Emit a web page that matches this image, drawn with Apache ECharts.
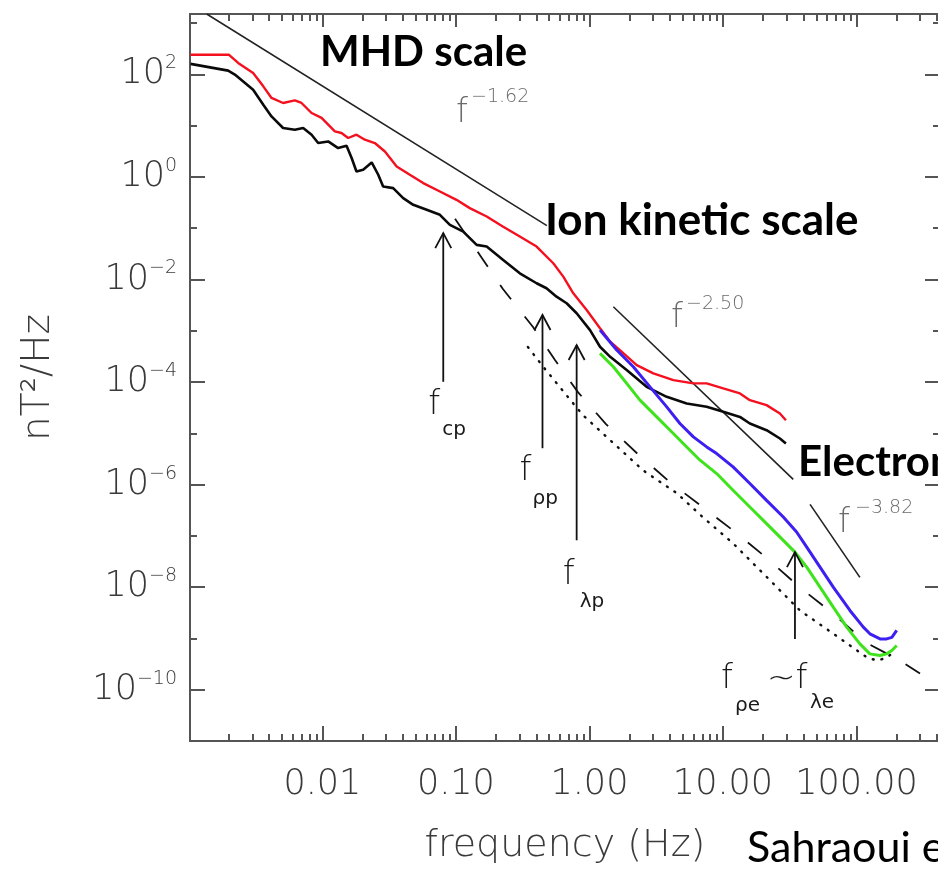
<!DOCTYPE html>
<html>
<head>
<meta charset="utf-8">
<script src="https://cdn.jsdelivr.net/npm/echarts@6/dist/echarts.min.js"></script>
<style>
  html, body { margin: 0; padding: 0; background: #fff; }
  #chart { width: 938px; height: 872px; }
</style>
</head>
<body>
<div id="chart"></div>
<script>
// Magnetic field power spectra across MHD, ion and electron scales (nT^2/Hz)

// Spectrum 1 (red)
const redFreq = [0.00103, 0.0020, 0.00234, 0.00303, 0.00361, 0.00416, 0.00508, 0.00622, 0.00698, 0.0083,
  0.00986, 0.0124, 0.0139, 0.0156, 0.0180, 0.0208, 0.0247, 0.0294, 0.0360, 0.0452,
  0.0569, 0.0759, 0.101, 0.127, 0.170, 0.226, 0.301, 0.402, 0.536, 0.637,
  0.757, 0.953, 1.20, 1.43, 1.69, 2.26, 3.01, 4.25, 6.0, 7.55,
  10.05, 13.4, 15.9, 21.2, 26.7, 29.6];
const redPsd = [240, 240, 167, 106, 58.3, 34.6, 27.6, 31.0, 27.6, 17.6,
  14.1, 7.71, 7.16, 5.73, 6.64, 5.31, 4.57, 3.13, 1.60, 1.10,
  0.757, 0.519, 0.357, 0.246, 0.169, 0.107, 0.0686, 0.0438, 0.0207, 0.01135,
  0.00537, 0.00254, 0.001114, 6.10e-4, 4.20e-4, 2.14e-4, 1.47e-4, 1.09e-4, 9.4e-5, 9.4e-5,
  7.5e-5, 5.98e-5, 4.43e-5, 3.54e-5, 2.44e-5, 1.80e-5];

// Spectrum 2 (black)
const blackFreq = [0.00103, 0.00197, 0.00221, 0.00303, 0.00361, 0.00416, 0.00508, 0.00622, 0.00718, 0.0083,
  0.0093, 0.01105, 0.01312, 0.01517, 0.01656, 0.0180, 0.0202, 0.0234, 0.0262, 0.0285,
  0.0339, 0.0403, 0.0479, 0.0604, 0.0759, 0.0902, 0.1135, 0.143, 0.170, 0.226,
  0.301, 0.402, 0.477, 0.567, 0.675, 0.802, 1.01, 1.20, 1.43, 1.90,
  2.68, 3.79, 5.35, 7.55, 10.05, 13.4, 15.9, 21.2, 26.7, 29.6];
const blackPsd = [160, 118, 98.7, 50.2, 25.6, 15.1, 8.98, 8.32, 8.98, 6.64,
  4.57, 4.91, 3.65, 4.05, 2.33, 1.27, 1.38, 1.91, 1.10, 0.649,
  0.604, 0.385, 0.285, 0.228, 0.182, 0.116, 0.0859, 0.0472, 0.0438, 0.0240,
  0.0132, 0.00843, 0.00673, 0.00461, 0.00343, 0.00219, 0.00103, 4.87e-4, 3.10e-4, 1.71e-4,
  8.05e-5, 5.14e-5, 3.82e-5, 3.28e-5, 2.62e-5, 2.09e-5, 1.55e-5, 1.15e-5, 7.91e-6, 6.33e-6];

// Spectrum 3 (blue, high-frequency)
const blueFreq = [1.20, 1.60, 2.13, 2.84, 3.79, 4.76, 6.0, 7.55, 8.97, 11.9,
  15.9, 21.2, 28.3, 35.6, 42.4, 53.3, 67.0, 89.3, 112.5, 126,
  150, 168, 184, 200];
const bluePsd = [1.03e-3, 4.20e-4, 1.98e-4, 8.05e-5, 3.28e-5, 1.55e-5, 8.51e-6, 5.43e-6, 4.03e-6, 2.21e-6,
  1.05e-6, 4.93e-7, 2.33e-7, 1.19e-7, 6.04e-8, 2.46e-8, 1.0e-8, 3.51e-9, 1.66e-9, 1.23e-9,
  9.8e-10, 9.8e-10, 1.05e-9, 1.43e-9];

// Spectrum 4 (green, high-frequency)
const greenFreq = [1.20, 1.51, 1.90, 2.39, 3.19, 4.25, 5.04, 6.73, 8.97, 11.9,
  15.9, 21.2, 28.3, 34.6, 42.4, 53.3, 67.0, 84.5, 106, 126,
  150, 168, 184, 200];
const greenPsd = [3.62e-4, 1.98e-4, 9.4e-5, 4.43e-5, 2.09e-5, 9.9e-6, 6.33e-6, 2.99e-6, 1.64e-6, 7.74e-7,
  3.65e-7, 1.73e-7, 8.17e-8, 4.83e-8, 2.46e-8, 1.0e-8, 4.07e-9, 1.66e-9, 7.85e-10, 5.0e-10,
  4.64e-10, 5.0e-10, 5.81e-10, 7.26e-10];

// Instrument noise levels (dashed and dotted)
const dashFreq = [0.0985, 0.151, 0.225, 0.378, 0.552, 0.820, 1.33, 2.27, 4.01, 7.08,
  12.7, 21.4, 37.7, 66.7, 118, 212, 299];
const dashPsd = [0.152, 0.0301, 0.00652, 1.18e-3, 2.68e-4, 6.35e-5, 1.51e-5, 4.08e-6, 1.11e-6, 3.61e-7,
  1.12e-7, 3.64e-8, 9.86e-9, 3.06e-9, 8.3e-10, 3.70e-10, 2.06e-10];
const dotFreq = [0.346, 0.465, 0.601, 0.893, 1.43, 2.52, 4.52, 7.08, 11.9, 21.4,
  37.7, 66.7, 120, 143, 169, 188];
const dotPsd = [4.81e-4, 1.79e-4, 7.94e-5, 2.26e-5, 7.33e-6, 1.90e-6, 6.76e-7, 2.30e-7, 7.15e-8, 1.55e-8,
  3.51e-9, 1.25e-9, 4.24e-10, 3.70e-10, 4.24e-10, 5.31e-10];

// Power-law reference segments
const fit162Freq = [0.00136, 0.48];
const fit162Psd = [1500, 0.112];
const fit250Freq = [1.51, 33.6];
const fit250Psd = [2.94e-3, 1.26e-6];
const fit382Freq = [44.9, 106];
const fit382Psd = [4.12e-7, 1.55e-8];

// Characteristic frequencies (arrows): frequency, arrow tip and arrow base levels
const cutoffFreq = [0.0804, 0.445, 0.802, 34.6];
const cutoffTip = [7.98e-2, 2.03e-3, 5.26e-4, 4.83e-8];
const cutoffBase = [1.01e-4, 5.12e-6, 8.2e-8, 9.8e-10];
const cutoffText = [
  ['f', 'cp'],
  ['f', 'ρp'],
  ['f', 'λp'],
  ['f', 'ρe', '~f', 'λe']
];

// Axis ranges and ticks
const xMin = 0.00102, xMax = 422, yMin = 1e-11, yMax = 1500;
const xMajor = [0.01, 0.1, 1, 10, 100];
const yMajor = [1e-10, 1e-8, 1e-6, 1e-4, 1e-2, 1, 1e2];
const yMinor = [1e-9, 1e-7, 1e-5, 1e-3, 1e-1, 1e1, 1e3];

const xMinor = [];
[0.001, 0.01, 0.1, 1, 10, 100].forEach(function (d) {
  for (let m = 2; m <= 9; m++) {
    const v = m * d;
    if (v > xMin && v < xMax) xMinor.push(v);
  }
});

const pairs = (xs, ys) => xs.map((x, i) => [x, ys[i]]);

const FONT = '"DejaVu Sans", sans-serif';
const axisGray = '#555';
const labelGray = '#3a3a3a';

function xAxis(position, tickLen, ticks, labelled) {
  return {
    type: 'log', gridIndex: 0, position: position, min: xMin, max: xMax,
    axisLine: { show: labelled, lineStyle: { color: axisGray, width: 2 } },
    axisTick: { show: true, inside: true, length: tickLen, customValues: ticks,
      lineStyle: { color: axisGray, width: 2 } },
    axisLabel: labelled && position === 'bottom' ? {
      show: true, customValues: xMajor, margin: 26,
      formatter: v => Number(v).toFixed(2),
      fontSize: 35, fontFamily: FONT, fontWeight: 200, color: labelGray
    } : { show: false },
    splitLine: { show: false },
    name: labelled && position === 'bottom' ? 'frequency (Hz)' : '',
    nameLocation: 'middle', nameGap: 86,
    nameTextStyle: { fontSize: 38, fontFamily: FONT, fontWeight: 200, color: labelGray }
  };
}

function yAxis(position, tickLen, ticks, labelled) {
  return {
    type: 'log', gridIndex: 0, position: position, min: yMin, max: yMax,
    axisLine: { show: labelled, lineStyle: { color: axisGray, width: 2 } },
    axisTick: { show: true, inside: true, length: tickLen, customValues: ticks,
      lineStyle: { color: axisGray, width: 2 } },
    axisLabel: labelled && position === 'left' ? {
      show: true, customValues: yMajor, margin: 13,
      formatter: function (v) {
        const e = Math.round(Math.log10(v));
        return '{b|10}{e|' + (e < 0 ? '−' : '') + Math.abs(e) + '}';
      },
      rich: {
        b: { fontSize: 35, fontFamily: FONT, fontWeight: 200, color: labelGray },
        e: { fontSize: 19, fontFamily: FONT, fontWeight: 200, color: labelGray, padding: [0, 0, 22, 0] }
      }
    } : { show: false },
    splitLine: { show: false },
    name: labelled && position === 'left' ? 'nT²/Hz' : '',
    nameLocation: 'middle', nameGap: 132,
    nameTextStyle: { fontSize: 39, fontFamily: FONT, fontWeight: 200, color: labelGray }
  };
}

function curve(name, xs, ys, color, width, type, extra) {
  return Object.assign({
    name: name, type: 'line', xAxisIndex: 0, yAxisIndex: 0,
    data: pairs(xs, ys), showSymbol: false, symbol: 'none', smooth: false,
    lineStyle: { color: color, width: width, type: type || 'solid' },
    emphasis: { disabled: true }, silent: true, z: 3
  }, extra || {});
}

// Label pieces for each arrow, offsets from the arrow base in px: [dx, dy, fontSize]
const cutoffLayout = [
  [[-15, 23, 34], [-1, 48, 20]],
  [[-23, 23, 34], [-10, 51, 20]],
  [[-14, 35, 34], [3, 62, 20]],
  [[-74, 40, 34], [-60, 67, 20], [-28, 40, 34], [15, 64, 20]]
];

const chart = echarts.init(document.getElementById('chart'), null, { renderer: 'canvas' });

chart.setOption({
  animation: false,
  backgroundColor: '#ffffff',
  textStyle: { fontFamily: FONT },
  grid: { left: 190, top: 14, width: 750, height: 727, containLabel: false, outerBoundsMode: 'none' },
  xAxis: [
    xAxis('bottom', 15, xMajor, true),
    xAxis('bottom', 7, xMinor, false),
    xAxis('top', 13, xMajor, true),
    xAxis('top', 7, xMinor, false)
  ],
  yAxis: [
    yAxis('left', 15, yMajor, true),
    yAxis('left', 7, yMinor, false),
    yAxis('right', 15, yMajor, true),
    yAxis('right', 7, yMinor, false)
  ],
  series: [
    curve('noise-dashed', dashFreq, dashPsd, '#111', 1.8, [18, 22]),
    curve('noise-dotted', dotFreq, dotPsd, '#111', 2.4, [1, 8], { lineStyle: { color: '#111', width: 2.4, type: [1, 8], cap: 'round' } }),
    curve('f^-1.62', fit162Freq, fit162Psd, '#222', 1.5),
    curve('f^-2.50', fit250Freq, fit250Psd, '#222', 1.6),
    curve('f^-3.82', fit382Freq, fit382Psd, '#222', 1.6),
    curve('black', blackFreq, blackPsd, '#0a0a0a', 2.6),
    curve('red', redFreq, redPsd, '#f5101f', 2.4),
    curve('blue', blueFreq, bluePsd, '#3d1ff2', 3),
    curve('green', greenFreq, greenPsd, '#3fe31c', 3),
    {
      type: 'custom', xAxisIndex: 0, yAxisIndex: 0, silent: true, z: 5,
      data: cutoffFreq.map((f, i) => [f, cutoffTip[i], cutoffBase[i], i]),
      renderItem: function (params, api) {
        const i = api.value(3);
        const tip = api.coord([api.value(0), api.value(1)]);
        const base = api.coord([api.value(0), api.value(2)]);
        const children = [
          { type: 'line', shape: { x1: tip[0], y1: tip[1], x2: base[0], y2: base[1] },
            style: { stroke: '#111', lineWidth: 1.8 } },
          { type: 'polyline', shape: { points: [[tip[0] - 8, tip[1] + 15], [tip[0], tip[1]], [tip[0] + 8, tip[1] + 15]] },
            style: { stroke: '#111', lineWidth: 1.8, fill: null } }
        ];
        cutoffText[i].forEach(function (t, k) {
          const L = cutoffLayout[i][k];
          children.push({
            type: 'text', x: base[0] + L[0], y: base[1] + L[1],
            style: { text: t, fill: '#1a1a1a', fontSize: L[2], fontFamily: FONT, fontWeight: L[2] > 30 ? 200 : 'normal',
              align: 'left', verticalAlign: 'middle' }
          });
        });
        return { type: 'group', children: children };
      }
    }
  ],
  graphic: [
    { type: 'text', x: 320, y: 52, z: 50, style: { text: 'MHD scale', fill: '#000', fontSize: 42, fontWeight: 'bold', fontFamily: 'Lato', verticalAlign: 'middle' } },
    { type: 'text', x: 545, y: 221, z: 50, style: { text: 'Ion kinetic scale', fill: '#000', fontSize: 44, fontWeight: 'bold', fontFamily: 'Lato', verticalAlign: 'middle' } },
    { type: 'text', x: 798, y: 462, z: 50, style: { text: 'Electron scale', fill: '#000', fontSize: 42, fontWeight: 'bold', fontFamily: 'Lato', verticalAlign: 'middle' } },
    { type: 'text', x: 747, y: 848, z: 50, style: { text: 'Sahraoui et al.', fill: '#000', fontSize: 43, fontFamily: 'Lato', verticalAlign: 'middle' } },
    { type: 'text', x: 456, y: 113, z: 50, style: { text: 'f', fill: '#6b6b6b', fontSize: 34, fontWeight: 200, fontFamily: FONT, verticalAlign: 'middle' } },
    { type: 'text', x: 471, y: 97.5, z: 50, style: { text: '−1.62', fill: '#6b6b6b', fontSize: 19, fontWeight: 200, fontFamily: FONT, verticalAlign: 'middle' } },
    { type: 'text', x: 671, y: 318, z: 50, style: { text: 'f', fill: '#6b6b6b', fontSize: 34, fontWeight: 200, fontFamily: FONT, verticalAlign: 'middle' } },
    { type: 'text', x: 686, y: 304, z: 50, style: { text: '−2.50', fill: '#6b6b6b', fontSize: 19, fontWeight: 200, fontFamily: FONT, verticalAlign: 'middle' } },
    { type: 'text', x: 838, y: 523, z: 50, style: { text: 'f', fill: '#6b6b6b', fontSize: 34, fontWeight: 200, fontFamily: FONT, verticalAlign: 'middle' } },
    { type: 'text', x: 855, y: 508.5, z: 50, style: { text: '−3.82', fill: '#6b6b6b', fontSize: 19, fontWeight: 200, fontFamily: FONT, verticalAlign: 'middle' } }
  ]
});
</script>
</body>
</html>
